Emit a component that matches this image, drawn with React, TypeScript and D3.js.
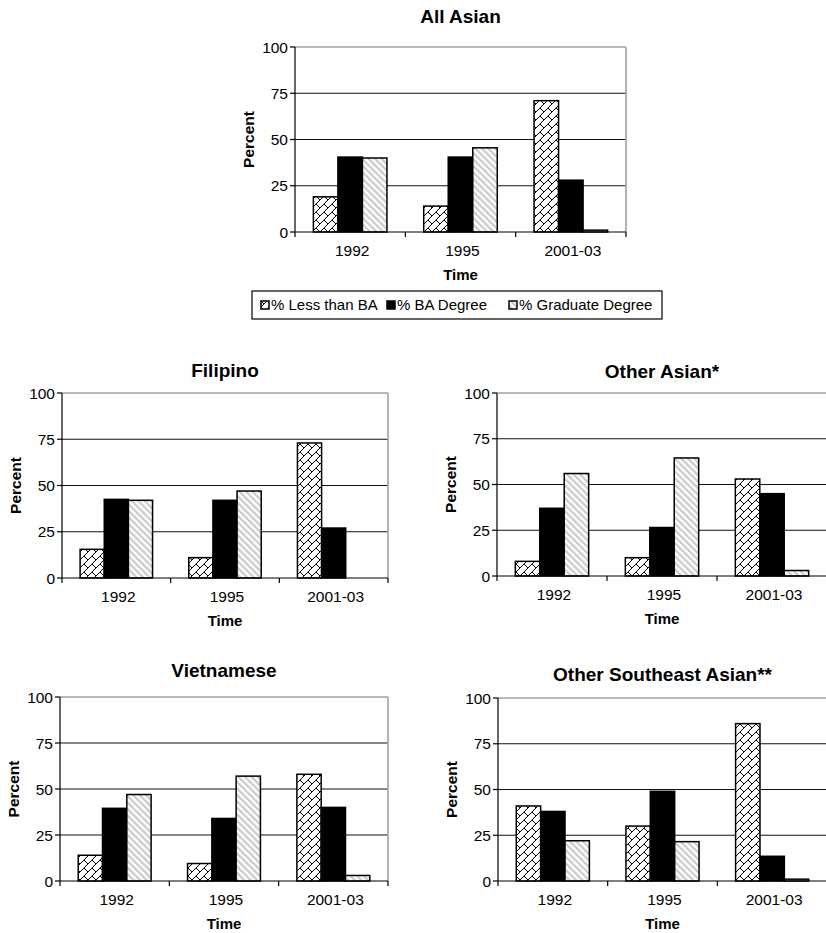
import React from 'react';
import * as d3 from 'd3';

const categories = ['1992', '1995', '2001-03'];
const seriesNames = ['% Less than BA', '% BA Degree', '% Graduate Degree'];
const yTicks = [0, 25, 50, 75, 100];

const allAsianLessBA = [19, 14, 71];
const allAsianBA = [40.5, 40.5, 28];
const allAsianGrad = [40, 45.5, 1];

const filipinoLessBA = [15.5, 11, 73];
const filipinoBA = [42.5, 42, 27];
const filipinoGrad = [42, 47, 0];

const otherAsianLessBA = [8, 10, 53];
const otherAsianBA = [37, 26.5, 45];
const otherAsianGrad = [56, 64.5, 3];

const vietnameseLessBA = [14, 9.5, 58];
const vietnameseBA = [39.5, 34, 40];
const vietnameseGrad = [47, 57, 3];

const otherSELessBA = [41, 30, 86];
const otherSEBA = [38, 49, 13.5];
const otherSEGrad = [22, 21.5, 1];

const FONT = "'Liberation Sans', Arial, Helvetica, sans-serif";
const fills = ['url(#brick)', '#000', 'url(#stripe)'];

type PanelProps = {
  title: string;
  series: number[][];
  left: number;
  right: number;
  top: number;
  bottom: number;
  titleY: number;
};

function Panel({ title, series, left, right, top, bottom, titleY }: PanelProps) {
  const x = d3.scaleBand<string>().domain(categories).range([left, right]).paddingInner(0).paddingOuter(0);
  const xs = d3.scaleBand<string>().domain(seriesNames).range([0, x.bandwidth()]).paddingInner(0).paddingOuter(0.75);
  const y = d3.scaleLinear().domain([0, 100]).range([bottom, top]);
  const cx = (left + right) / 2;
  const cy = (top + bottom) / 2;
  const bounds = d3.range(categories.length + 1).map((i) => left + i * x.step());
  return (
    <g>
      <text x={cx} y={titleY} dy="0.36em" textAnchor="middle" fontWeight="bold" fontSize={19} fontFamily={FONT}>{title}</text>
      {yTicks.filter((t) => t > 0 && t < 100).map((t) => (
        <line key={'g' + t} x1={left} x2={right} y1={y(t)} y2={y(t)} stroke="#111" strokeWidth={1.2} />
      ))}
      <line x1={left} x2={right} y1={y(100)} y2={y(100)} stroke="#a0a0a0" strokeWidth={1.6} />
      <line x1={right} x2={right} y1={y(100)} y2={y(0)} stroke="#a0a0a0" strokeWidth={1.6} />
      {series.map((vals, si) =>
        categories.map((c, ci) => {
          const v = vals[ci];
          if (v <= 0) return null;
          const bx = (x(c) as number) + (xs(seriesNames[si]) as number);
          return (
            <rect key={si + '-' + ci} x={bx} y={y(v)} width={xs.bandwidth()} height={y(0) - y(v)}
              fill={fills[si]} stroke="#000" strokeWidth={1.5} />
          );
        })
      )}
      <line x1={left} x2={left} y1={y(100)} y2={y(0)} stroke="#000" strokeWidth={1.2} />
      <line x1={left} x2={right} y1={y(0)} y2={y(0)} stroke="#000" strokeWidth={1.2} />
      {yTicks.map((t) => (
        <g key={'t' + t}>
          <line x1={left - 5} x2={left} y1={y(t)} y2={y(t)} stroke="#000" strokeWidth={1.2} />
          <text x={left - 7} y={y(t)} dy="0.36em" textAnchor="end" fontSize={15.5} fontFamily={FONT}>{t}</text>
        </g>
      ))}
      {bounds.map((b, i) => (
        <line key={'b' + i} x1={b} x2={b} y1={y(0)} y2={y(0) + 5} stroke="#000" strokeWidth={1.2} />
      ))}
      {categories.map((c) => (
        <text key={'c' + c} x={(x(c) as number) + x.bandwidth() / 2 + 2} y={y(0) + 18} dy="0.36em" textAnchor="middle" fontSize={15.5} fontFamily={FONT}>{c}</text>
      ))}
      <text x={cx} y={y(0) + 43} dy="0.36em" textAnchor="middle" fontWeight="bold" fontSize={15} fontFamily={FONT}>Time</text>
      <text transform={`translate(${left - 47},${cy}) rotate(-90)`} dy="0.36em" textAnchor="middle" fontWeight="bold" fontSize={15.5} fontFamily={FONT}>Percent</text>
    </g>
  );
}

function Legend() {
  const items = [
    { name: seriesNames[0], fill: fills[0], sx: 261 },
    { name: seriesNames[1], fill: fills[1], sx: 387 },
    { name: seriesNames[2], fill: fills[2], sx: 509 },
  ];
  return (
    <g>
      <rect x={252} y={291} width={410} height={28} fill="#fff" stroke="#000" strokeWidth={1.2} />
      {items.map((it) => (
        <g key={it.name}>
          <rect x={it.sx} y={301} width={8} height={8} fill={it.fill} stroke="#000" strokeWidth={1.5} />
          <text x={it.sx + 10} y={305} dy="0.36em" fontSize={15} fontFamily={FONT}>{it.name}</text>
        </g>
      ))}
    </g>
  );
}

export default function App() {
  return (
    <svg width={826} height={933} style={{ position: 'absolute', left: 0, top: 0, background: '#fff' }}>
      <defs>
        <pattern id="brick" patternUnits="userSpaceOnUse" width={8} height={8}>
          <rect width={8} height={8} fill="#fff" />
          <path d="M-1,9 L9,-1 M4,4 L8,8" stroke="#000" strokeWidth={1} fill="none" />
        </pattern>
        <pattern id="stripe" patternUnits="userSpaceOnUse" width={4.6} height={4.6} patternTransform="rotate(-45)">
          <rect width={4.6} height={4.6} fill="#fff" />
          <rect width={2.3} height={4.6} fill="#cccccc" />
        </pattern>
      </defs>
      <rect width={826} height={933} fill="#fff" />
      <Panel title="All Asian" series={[allAsianLessBA, allAsianBA, allAsianGrad]} left={295} right={626} top={47} bottom={232} titleY={16} />
      <Legend />
      <Panel title="Filipino" series={[filipinoLessBA, filipinoBA, filipinoGrad]} left={62} right={388} top={393} bottom={578} titleY={370} />
      <Panel title="Other Asian*" series={[otherAsianLessBA, otherAsianBA, otherAsianGrad]} left={497} right={827} top={393} bottom={576} titleY={371} />
      <Panel title="Vietnamese" series={[vietnameseLessBA, vietnameseBA, vietnameseGrad]} left={60} right={388} top={697} bottom={881} titleY={670} />
      <Panel title="Other Southeast Asian**" series={[otherSELessBA, otherSEBA, otherSEGrad]} left={498} right={827} top={698} bottom={881} titleY={674} />
    </svg>
  );
}
